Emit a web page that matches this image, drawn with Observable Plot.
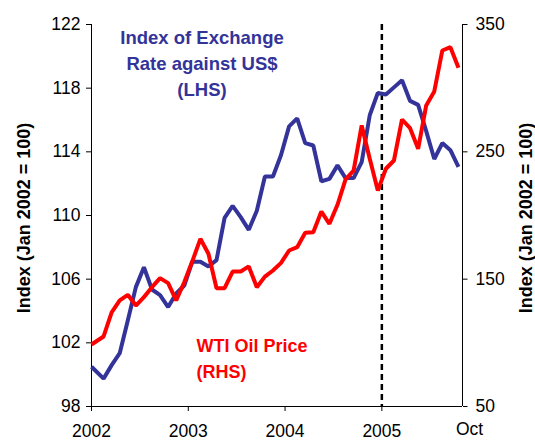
<!DOCTYPE html>
<html>
<head>
<meta charset="utf-8">
<script src="https://cdn.jsdelivr.net/npm/d3@7"></script>
<script src="https://cdn.jsdelivr.net/npm/@observablehq/plot@0.6"></script>
<style>
  html, body { margin: 0; padding: 0; background: #ffffff; }
  #chart svg { display: block; }
</style>
</head>
<body>
<div id="chart"></div>
<script>
// Index of Exchange Rate against US$ (LHS): Jan 2002 base point, then monthly Feb 2002 .. Oct 2005
const exchangeRateIndex = [100.5, 99.75, 100.6, 101.35, 103.4, 105.5, 106.75, 105.35, 105.0, 104.25,
  105.1, 105.6, 107.1, 107.1, 106.8, 107.2, 109.85, 110.6, 109.9, 109.1,
  110.3, 112.45, 112.45, 113.8, 115.6, 116.1, 114.55, 114.4, 112.15, 112.3,
  113.15, 112.35, 112.35, 113.35, 116.3, 117.7, 117.6, 118.05, 118.5, 117.2,
  116.95, 115.3, 113.55, 114.55, 114.1, 113.05];

// WTI Oil Price index (RHS), same dates
const oilPriceIndex = [98.7, 105, 124, 133.3, 137.7, 129.3, 135.9, 143.7, 150.8, 146.9,
  133.3, 147.6, 164, 181.7, 170, 142.9, 142.9, 156, 156, 160,
  143.7, 152, 156.8, 162.8, 172.5, 175.1, 186.4, 186.9, 203.1, 193.5,
  208.4, 228.3, 235.3, 270.7, 244.5, 219.6, 236.7, 243.2, 275.4, 268.6,
  252.4, 286.4, 297.4, 329.6, 332.2, 316];

const yearTicks = [2002, 2003, 2004, 2005];
const endLabel = "Oct";
const markerYear = 2005;
const leftTicks = [98, 102, 106, 110, 114, 118, 122];
const rightTicks = [50, 150, 250, 350];
const leftDomain = [98, 122];
const rightDomain = [50, 350];
const axisTitle = "Index (Jan 2002 = 100)";
const blueTitle = ["Index of Exchange", "Rate against US$", "(LHS)"];
const redTitle = ["WTI Oil Price", "(RHS)"];

// months since start of Jan 2002: first point is the base at the start, then mid-month
const monthPos = (i) => (i === 0 ? 0 : i + 0.5);
const xEnd = 46; // early Nov 2005
const toLeft = (v) => leftDomain[0] + (v - rightDomain[0]) * (leftDomain[1] - leftDomain[0]) / (rightDomain[1] - rightDomain[0]);
const fromLeft = (v) => rightDomain[0] + (v - leftDomain[0]) * (rightDomain[1] - rightDomain[0]) / (leftDomain[1] - leftDomain[0]);

const blueData = exchangeRateIndex.map((v, i) => ({x: monthPos(i), y: v}));
const redData = oilPriceIndex.map((v, i) => ({x: monthPos(i), y: toLeft(v)}));

const BLUE = "#333399";
const RED = "#ff0000";
const FS = 17.5;

const chart = Plot.plot({
  width: 535,
  height: 441,
  marginLeft: 91,
  marginRight: 73,
  marginTop: 24,
  marginBottom: 35,
  style: {fontFamily: "'Liberation Sans', Arial, Helvetica, sans-serif", background: "#ffffff", color: "#000000"},
  x: {type: "linear", domain: [0, xEnd], axis: null},
  y: {domain: leftDomain, axis: null},
  marks: [
    // axis lines
    Plot.ruleX([0, xEnd], {stroke: "#000000", strokeWidth: 1}),
    Plot.ruleY([leftDomain[0]], {stroke: "#000000", strokeWidth: 1}),
    // left axis
    Plot.axisY({anchor: "left", ticks: leftTicks, tickSize: 5, tickPadding: 6, fontSize: FS, label: null, stroke: "#000000"}),
    // right axis
    Plot.axisY({anchor: "right", ticks: rightTicks.map(toLeft), tickFormat: (d) => String(Math.round(fromLeft(d))),
      tickSize: 4.5, tickPadding: 8.5, fontSize: FS, label: null, stroke: "#000000"}),
    // bottom axis
    Plot.axisX({anchor: "bottom", ticks: yearTicks.map((y) => (y - 2002) * 12), tickFormat: (d) => String(2002 + d / 12),
      tickSize: 5, tickPadding: 13, fontSize: FS, label: null, stroke: "#000000"}),
    Plot.axisX({anchor: "bottom", ticks: [xEnd], tickFormat: () => endLabel,
      tickSize: 0, tickPadding: 16, fontSize: FS, label: null, dx: 7}),
    // dashed marker at Jan 2005
    Plot.ruleX([(markerYear - 2002) * 12], {stroke: "#000000", strokeWidth: 2.5, strokeDasharray: "6,4"}),
    // series
    Plot.line(blueData, {x: "x", y: "y", stroke: BLUE, strokeWidth: 4, strokeLinejoin: "miter", strokeLinecap: "butt"}),
    Plot.line(redData, {x: "x", y: "y", stroke: RED, strokeWidth: 4, strokeLinejoin: "miter", strokeLinecap: "butt"}),
    // axis titles
    Plot.text([axisTitle], {frameAnchor: "left", textAnchor: "middle", rotate: -90, dx: -67, dy: 2.5, fontWeight: "bold", fontSize: 18, fill: "#000000"}),
    Plot.text([axisTitle], {frameAnchor: "right", textAnchor: "middle", rotate: -90, dx: 63.5, dy: 2.5, fontWeight: "bold", fontSize: 18, fill: "#000000"}),
    // series labels
    ...blueTitle.map((t, i) => Plot.text([t], {frameAnchor: "top-left", dx: 110.5, dy: 19.3 + i * 26, lineAnchor: "bottom",
      textAnchor: "middle", fontWeight: "bold", fontSize: 18.5, fill: BLUE})),
    ...redTitle.map((t, i) => Plot.text([t], {frameAnchor: "top-left", dx: 105, dy: 327.3 + i * 25.7, lineAnchor: "bottom",
      textAnchor: "start", fontWeight: "bold", fontSize: 18, fill: RED}))
  ]
});

document.getElementById("chart").appendChild(chart);
</script>
</body>
</html>
